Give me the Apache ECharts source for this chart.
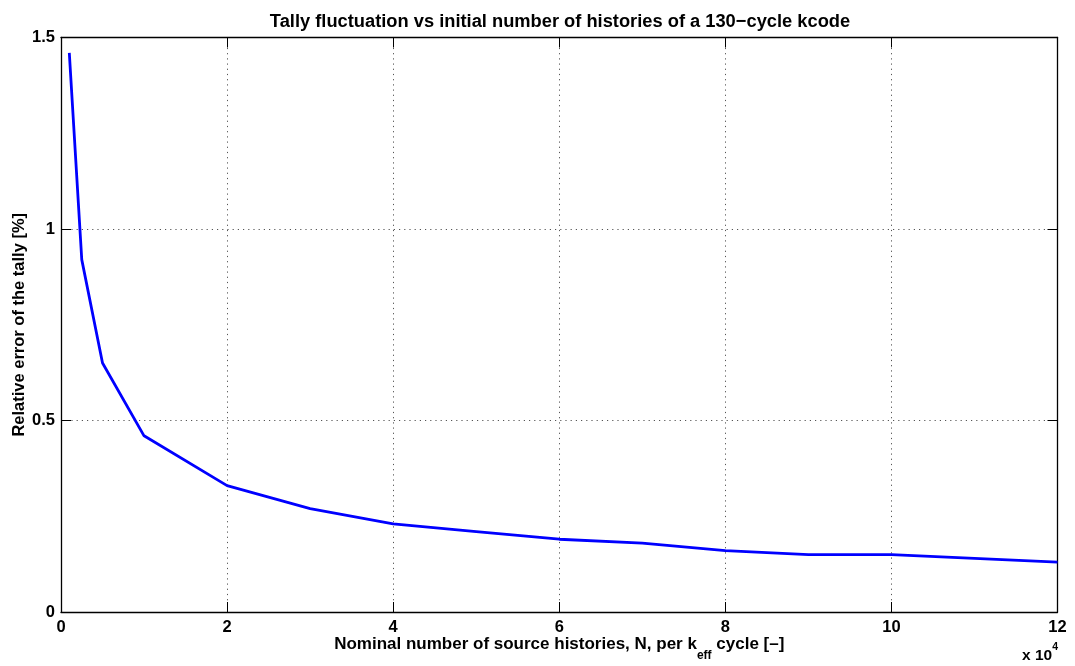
<!DOCTYPE html>
<html>
<head>
<meta charset="utf-8">
<script src="https://cdn.jsdelivr.net/npm/echarts@6/dist/echarts.min.js"></script>
<style>
  html, body { margin: 0; padding: 0; background: #ffffff; }
  #chart { width: 1075px; height: 666px; }
</style>
</head>
<body>
<div id="chart"></div>
<script>
// Nominal source histories per k_eff cycle
const histories = [1000, 2500, 5000, 10000, 20000, 30000, 40000, 50000, 60000, 70000, 80000, 90000, 100000, 110000, 120000];
// Relative error of the tally [%]
const relError = [1.46, 0.92, 0.65, 0.46, 0.33, 0.27, 0.23, 0.21, 0.19, 0.18, 0.16, 0.15, 0.15, 0.14, 0.13];
// Tick labels
const xTickLabels = ['0', '2', '4', '6', '8', '10', '12'];
const yTickLabels = ['0', '0.5', '1', '1.5'];

const FONT = '"Liberation Sans", Arial, Helvetica, sans-serif';
const X_STEP = 20000;
const Y_STEP = 0.5;

const chart = echarts.init(document.getElementById('chart'), null, { renderer: 'canvas' });

const tickStyle = { show: true, inside: true, length: 10, lineStyle: { color: '#000', width: 1 } };
const lineStyle = { show: true, onZero: false, lineStyle: { color: '#000', width: 1.3 } };
const gridLine = { show: true, lineStyle: { color: '#555', width: 1, type: [1.2, 4] } };

chart.setOption({
  backgroundColor: '#ffffff',
  animation: false,
  title: {
    text: 'Tally fluctuation vs initial number of histories of a 130\u2212cycle kcode',
    left: 555,
    textAlign: 'center',
    top: 8,
    textStyle: { fontFamily: FONT, fontSize: 18.3, fontWeight: 'bold', color: '#000' }
  },
  grid: { left: 61, right: 17.5, top: 37.5, bottom: 54, containLabel: false, outerBoundsMode: 'none' },
  xAxis: [
    {
      type: 'value', position: 'bottom',
      min: 0, max: 120000, interval: X_STEP,
      axisLine: lineStyle, axisTick: tickStyle, splitLine: gridLine,
      axisLabel: {
        margin: 7, color: '#000', fontFamily: FONT, fontSize: 16.5, fontWeight: 'bold',
        formatter: v => xTickLabels[Math.round(v / X_STEP)]
      },
      name: '{n|Nominal number of source histories, N, per k}{s|eff}{n| cycle [\u2013]}',
      nameLocation: 'middle',
      nameGap: 14,
      nameMoveOverlap: false,
      nameTextStyle: {
        rich: {
          n: { fontFamily: FONT, fontSize: 17, fontWeight: 'bold', color: '#000', lineHeight: 36, verticalAlign: 'middle' },
          s: { fontFamily: FONT, fontSize: 12, fontWeight: 'bold', color: '#000', lineHeight: 36, verticalAlign: 'bottom' }
        }
      }
    },
    {
      type: 'value', position: 'top',
      min: 0, max: 120000, interval: X_STEP,
      axisLine: lineStyle, axisTick: tickStyle,
      axisLabel: { show: false }, splitLine: { show: false }
    }
  ],
  yAxis: [
    {
      type: 'value', position: 'left',
      min: 0, max: 1.5, interval: Y_STEP,
      axisLine: lineStyle, axisTick: tickStyle, splitLine: gridLine,
      axisLabel: {
        margin: 6, color: '#000', fontFamily: FONT, fontSize: 16.5, fontWeight: 'bold',
        formatter: v => yTickLabels[Math.round(v / Y_STEP)]
      },
      name: 'Relative error of the tally [%]',
      nameLocation: 'middle',
      nameGap: 33,
      nameMoveOverlap: false,
      nameTextStyle: { fontFamily: FONT, fontSize: 16.5, fontWeight: 'bold', color: '#000' }
    },
    {
      type: 'value', position: 'right',
      min: 0, max: 1.5, interval: Y_STEP,
      axisLine: lineStyle, axisTick: tickStyle,
      axisLabel: { show: false }, splitLine: { show: false }
    }
  ],
  series: [
    {
      type: 'line',
      xAxisIndex: 0, yAxisIndex: 0,
      data: histories.map((h, i) => [h, relError[i]]),
      showSymbol: false,
      symbol: 'none',
      lineStyle: { color: '#0000ff', width: 2.8 },
      z: 5
    }
  ],
  graphic: [
    {
      type: 'text',
      right: 17,
      top: 642,
      style: {
        text: '{a|x 10}{b|4}',
        rich: {
          a: { fontFamily: FONT, fontSize: 15.5, fontWeight: 'bold', fill: '#000', lineHeight: 22, verticalAlign: 'bottom' },
          b: { fontFamily: FONT, fontSize: 10.5, fontWeight: 'bold', fill: '#000', lineHeight: 22, verticalAlign: 'top' }
        }
      }
    }
  ]
});
</script>
</body>
</html>
